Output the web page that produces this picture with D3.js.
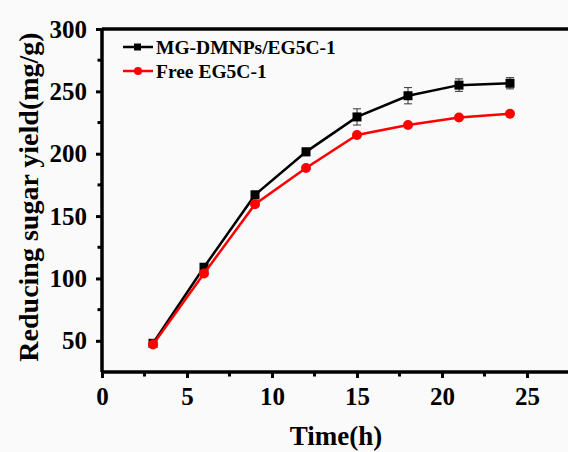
<!DOCTYPE html>
<html>
<head>
<meta charset="utf-8">
<script src="https://cdn.jsdelivr.net/npm/d3@7"></script>
<style>
  body { margin: 0; background: #fafafa; }
  svg { display: block; }
  text { font-family: "Liberation Serif", "Times New Roman", serif; font-weight: bold; fill: #000; }
</style>
</head>
<body>
<script>
var hours = [3, 6, 9, 12, 15, 18, 21, 24];
var immobilized = [48, 109, 167, 201.5, 229.5, 246.5, 255, 256.5];
var immobilizedErr = [1.5, 2, 3, 3, 6.5, 6.5, 5, 4.5];
var free = [47, 104, 159.5, 188.5, 215, 223, 229, 232];
var freeErr = [1, 1, 1, 1, 1, 1, 1, 1];
var xTicks = [0, 5, 10, 15, 20, 25];
var yTicks = [50, 100, 150, 200, 250, 300];

var W = 568, H = 452;
var margin = {top: 29, right: -10, bottom: 80, left: 102},
    width = W - margin.left - margin.right,
    height = H - margin.top - margin.bottom;

var svg = d3.select("body").append("svg")
    .attr("width", W)
    .attr("height", H);

svg.append("rect").attr("width", W).attr("height", H).attr("fill", "#fafafa");

var g = svg.append("g")
    .attr("transform", "translate(" + margin.left + "," + margin.top + ")");

var x = d3.scaleLinear().domain([0, 28]).range([0, width]);
var y = d3.scaleLinear().domain([25, 300]).range([height, 0]);

// top frame line
g.append("line")
    .attr("x1", 0).attr("x2", width)
    .attr("y1", 0).attr("y2", 0)
    .style("stroke", "#000").style("stroke-width", "3.5px");

// minor ticks
var xMinor = d3.range(2.5, 28, 5);
var yMinor = d3.range(75, 300, 50);

var xAxis = g.append("g")
    .attr("transform", "translate(0," + height + ")")
    .call(d3.axisBottom(x).tickValues(xTicks).tickSize(6).tickPadding(6).tickFormat(d3.format("d")));
xAxis.append("g").selectAll("line")
    .data(xMinor).enter().append("line")
    .attr("x1", function(d) { return x(d); })
    .attr("x2", function(d) { return x(d); })
    .attr("y1", 0).attr("y2", 4.5)
    .style("stroke", "#000").style("stroke-width", "3px");

var yAxis = g.append("g")
    .call(d3.axisLeft(y).tickValues(yTicks).tickSize(6).tickPadding(9).tickFormat(d3.format("d")));
yAxis.append("g").selectAll("line")
    .data(yMinor).enter().append("line")
    .attr("y1", function(d) { return y(d); })
    .attr("y2", function(d) { return y(d); })
    .attr("x1", 0).attr("x2", -4.5)
    .style("stroke", "#000").style("stroke-width", "3px");

[xAxis, yAxis].forEach(function(a) {
    a.select(".domain").style("stroke", "#000").style("stroke-width", "3.5px");
    a.selectAll(".tick line").style("stroke", "#000").style("stroke-width", "3px");
    a.selectAll(".tick text")
        .style("font-size", "25px")
        .style("font-family", "'Liberation Serif', serif")
        .style("font-weight", "bold");
});
xAxis.select(".domain").attr("d", "M0,0H" + width);
yAxis.select(".domain").attr("d", "M0," + height + "V0");
xAxis.selectAll(".tick text").attr("dy", "0.82em");

// axis titles
svg.append("text")
    .attr("x", 336).attr("y", 445)
    .attr("text-anchor", "middle")
    .style("font-size", "27px")
    .text("Time(h)");

svg.append("text")
    .attr("transform", "translate(38,197) rotate(-90)")
    .attr("text-anchor", "middle")
    .style("font-size", "28px")
    .text("Reducing sugar yield(mg/g)");

var line = d3.line()
    .x(function(d) { return x(d[0]); })
    .y(function(d) { return y(d[1]); });

function drawSeries(vals, errs, color, shape) {
    var pts = hours.map(function(h, i) { return [h, vals[i], errs[i]]; });
    var s = g.append("g");
    s.append("path")
        .datum(pts)
        .attr("d", line)
        .attr("fill", "none")
        .style("stroke", color)
        .style("stroke-width", "2.5px");
    var ec = color === "#000" ? "#333" : color;
    var eb = s.selectAll(".err").data(pts).enter().append("g");
    eb.append("line")
        .attr("x1", function(d) { return x(d[0]); })
        .attr("x2", function(d) { return x(d[0]); })
        .attr("y1", function(d) { return y(d[1] - d[2]); })
        .attr("y2", function(d) { return y(d[1] + d[2]); })
        .style("stroke", ec).style("stroke-width", "1px");
    [-1, 1].forEach(function(sg) {
        eb.append("line")
            .attr("x1", function(d) { return x(d[0]) - 4; })
            .attr("x2", function(d) { return x(d[0]) + 4; })
            .attr("y1", function(d) { return y(d[1] + sg * d[2]); })
            .attr("y2", function(d) { return y(d[1] + sg * d[2]); })
            .style("stroke", ec).style("stroke-width", "1px");
    });
    if (shape === "square") {
        s.selectAll(".pt").data(pts).enter().append("rect")
            .attr("x", function(d) { return x(d[0]) - 4.5; })
            .attr("y", function(d) { return y(d[1]) - 4.5; })
            .attr("width", 9).attr("height", 9)
            .attr("fill", color);
    } else {
        s.selectAll(".pt").data(pts).enter().append("circle")
            .attr("cx", function(d) { return x(d[0]); })
            .attr("cy", function(d) { return y(d[1]); })
            .attr("r", 5)
            .attr("fill", color);
    }
}

drawSeries(immobilized, immobilizedErr, "#000", "square");
drawSeries(free, freeErr, "#ff0000", "circle");

// legend
var legend = [
    {name: "MG-DMNPs/EG5C-1", color: "#000", shape: "square", y: 47},
    {name: "Free EG5C-1", color: "#ff0000", shape: "circle", y: 71}
];
var lg = svg.append("g");
legend.forEach(function(d) {
    lg.append("line")
        .attr("x1", 123).attr("x2", 153)
        .attr("y1", d.y).attr("y2", d.y)
        .style("stroke", d.color).style("stroke-width", "2.5px");
    if (d.shape === "square") {
        lg.append("rect").attr("x", 134).attr("y", d.y - 3.5)
            .attr("width", 7).attr("height", 7).attr("fill", d.color);
    } else {
        lg.append("circle").attr("cx", 138).attr("cy", d.y).attr("r", 4).attr("fill", d.color);
    }
    lg.append("text")
        .attr("x", 156).attr("y", d.y + 6.5)
        .style("font-size", "19.5px")
        .text(d.name);
});
</script>
</body>
</html>
